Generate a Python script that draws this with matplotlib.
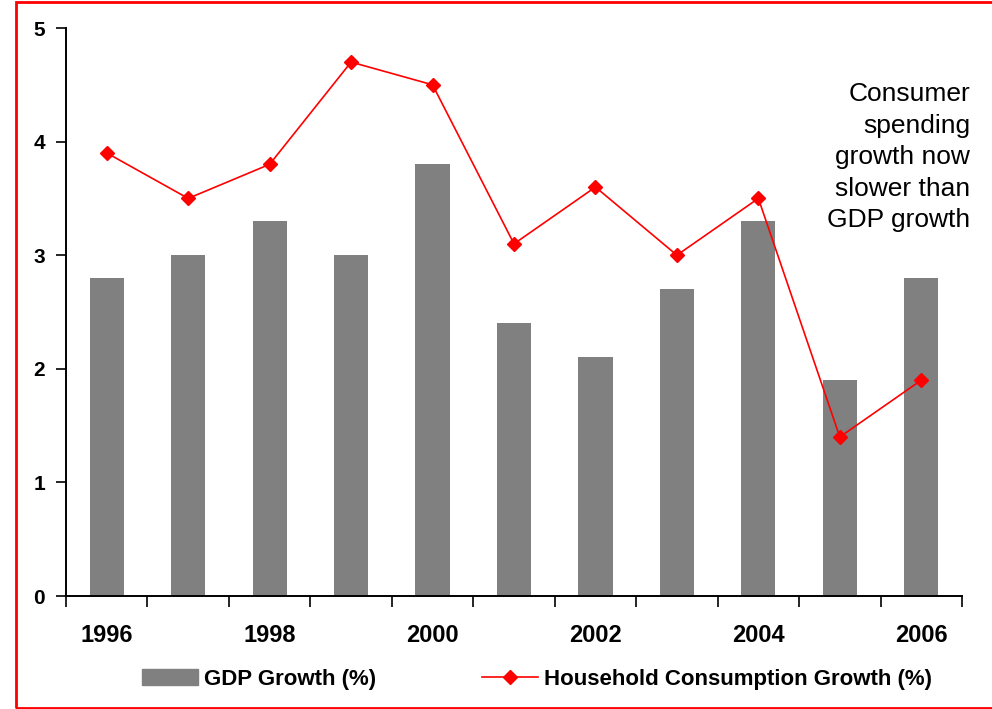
import matplotlib
matplotlib.use("Agg")
import matplotlib.pyplot as plt
from matplotlib.patches import Rectangle
from matplotlib.lines import Line2D

years = [1996, 1997, 1998, 1999, 2000, 2001, 2002, 2003, 2004, 2005, 2006]
gdp_growth = [2.8, 3.0, 3.3, 3.0, 3.8, 2.4, 2.1, 2.7, 3.3, 1.9, 2.8]
household_growth = [3.9, 3.5, 3.8, 4.7, 4.5, 3.1, 3.6, 3.0, 3.5, 1.4, 1.9]
y_ticks = [0, 1, 2, 3, 4, 5]
annotation = "Consumer\nspending\ngrowth now\nslower than\nGDP growth"

plt.rcParams['font.family'] = ['Liberation Sans', 'DejaVu Sans']

fig = plt.figure(figsize=(9.92, 7.09), dpi=100)
ax = fig.add_axes([66/992, 1-596/709, (962-66)/992, (596-28)/709])

x = list(range(len(years)))
ax.bar(x, gdp_growth, width=0.42, color='#808080', label='GDP Growth (%)', zorder=2)
ax.plot(x, household_growth, color='red', lw=1.2, marker='D', markersize=7,
        label='Household Consumption Growth (%)', zorder=3)

ax.set_xlim(-0.5, len(years) - 0.5)
ax.set_ylim(0, 5)
ax.set_yticks(y_ticks)
ax.set_yticklabels([str(v) for v in y_ticks], fontsize=15, fontweight='bold')
ax.tick_params(axis='y', direction='out', length=7, width=1.2, pad=8)

ax.set_xticks([i for i in x if years[i] % 2 == 0])
ax.set_xticklabels([str(years[i]) for i in x if years[i] % 2 == 0], fontsize=17, fontweight='bold')
ax.tick_params(axis='x', which='major', length=0, pad=20)
ax.set_xticks([i - 0.5 for i in range(len(years) + 1)], minor=True)
ax.tick_params(axis='x', which='minor', direction='out', length=8, width=1.2)

for s in ['top', 'right']:
    ax.spines[s].set_visible(False)
for s in ['left', 'bottom']:
    ax.spines[s].set_linewidth(1.4)

ax.text(1.009, 0.905, annotation, transform=ax.transAxes, ha='right', va='top',
        fontsize=19, linespacing=1.4)

handles = [Rectangle((0, 0), 1, 1, color='#808080'),
           Line2D([], [], color='red', lw=1.2, marker='D', markersize=7)]
fig.legend(handles, ['GDP Growth (%)', 'Household Consumption Growth (%)'],
           loc='center', bbox_to_anchor=(537/992, 1-679/709), ncol=2, frameon=False,
           prop={'size': 16, 'weight': 'bold'}, handlelength=2.5, handletextpad=0.27,
           columnspacing=4.8)

fig.patches.append(Rectangle((16/992, 1/709), 1.2, 1 - 2.5/709, transform=fig.transFigure,
                             fill=False, edgecolor='red', lw=2))

fig.savefig('out.png', dpi=100)
